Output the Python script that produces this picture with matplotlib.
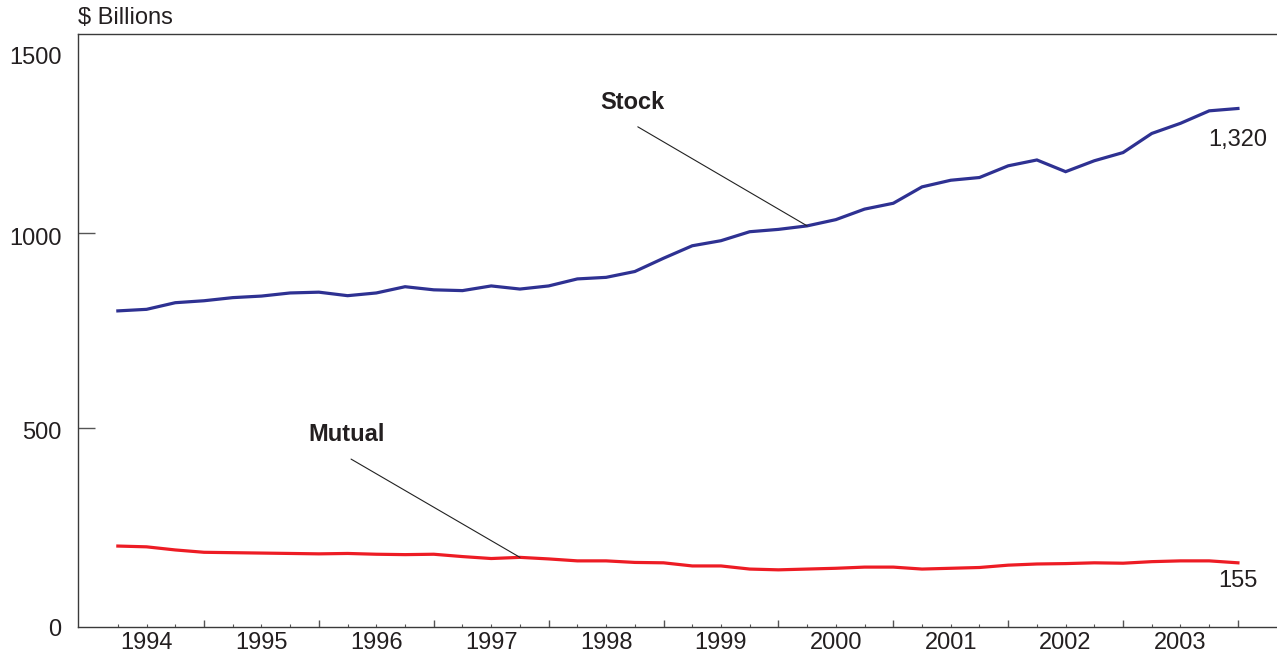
"""
Stock vs mutual holdings, quarterly, $ billions
"""
import matplotlib
matplotlib.use("Agg")
import matplotlib.pyplot as plt
import numpy as np

plt.rcParams['font.family'] = ['Liberation Sans', 'DejaVu Sans']

# quarter-end positions, 1994 Q1 .. 2003 Q4
quarters = np.arange(1994.25, 2004.01, 0.25)

stock = [801, 805, 822, 827, 835, 839, 847, 849, 840, 847,
         863, 855, 853, 865, 857, 865, 883, 887, 902, 936,
         968, 981, 1004, 1010, 1019, 1035, 1062, 1077, 1119, 1136,
         1143, 1173, 1188, 1158, 1186, 1207, 1256, 1282, 1314, 1320]

mutual = [198, 196, 188, 182, 181, 180, 179, 178, 179, 177,
          176, 177, 171, 166, 169, 165, 160, 160, 156, 155,
          147, 147, 139, 137, 139, 141, 144, 144, 139, 141,
          143, 149, 152, 153, 155, 154, 158, 160, 160, 155]

years = list(range(1994, 2004))
ytick_labels = ['0', '500', '1000', '1500']
ytick_label_pos = [-17, 487, 985, 1450]

stock_color = '#2E3192'
mutual_color = '#ED1C24'
text_color = '#231F20'
axis_color = '#3A3A3A'

fig = plt.figure(figsize=(12.77, 6.59), dpi=100)
ax = fig.add_axes([0.0608, 0.0486, 0.9392, 0.8998])

ax.plot(quarters, stock, color=stock_color, lw=2.3, solid_joinstyle='miter')
ax.plot(quarters, mutual, color=mutual_color, lw=2.3, solid_joinstyle='miter')

ax.set_xlim(1993.90, 2004.34)
ax.set_ylim(-9.5, 1511)

# spines
ax.spines['right'].set_visible(False)
for s in ['left', 'top', 'bottom']:
    ax.spines[s].set_color(axis_color)
    ax.spines[s].set_linewidth(1.0)

# x ticks: major at year ends, minor at quarter ends, labels mid-year
ax.set_xticks([y + 1.0 for y in years])
ax.set_xticks([q for q in quarters if abs(q - round(q)) > 0.01], minor=True)
ax.tick_params(axis='x', which='major', direction='in', length=5, width=1.0,
               color='#555555', labelbottom=False)
ax.tick_params(axis='x', which='minor', direction='in', length=2.3, width=0.8,
               color='#555555')
for y in years:
    ax.text(y + 0.5, -0.027, str(y), transform=ax.get_xaxis_transform(),
            ha='center', va='center', fontsize=17, color=text_color)

# y ticks: inward marks, labels placed as text
ax.set_yticks([500, 1000])
ax.tick_params(axis='y', direction='in', length=12, width=1.0,
               color='#555555', labelleft=False)
for lab, pos in zip(ytick_labels, ytick_label_pos):
    ax.text(-0.0135, pos, lab, transform=ax.get_yaxis_transform(),
            ha='right', va='center', fontsize=17, color=text_color)

fig.text(78 / 1277, 1 - 18 / 659, r'\$ Billions', ha='left', va='center',
         fontsize=17, color=text_color)

# series labels with pointer lines
ax.text(1998.73, 1336, 'Stock', ha='center', va='center', fontsize=17,
        fontweight='bold', color=text_color)
ax.annotate('', xy=(quarters[24], stock[24]), xytext=(1998.776, 1273),
            arrowprops=dict(arrowstyle='-', lw=0.8, color='#222222',
                            shrinkA=0, shrinkB=0))
ax.text(1996.24, 483, 'Mutual', ha='center', va='center', fontsize=17,
        fontweight='bold', color=text_color)
ax.annotate('', xy=(quarters[14], mutual[14]), xytext=(1996.28, 421),
            arrowprops=dict(arrowstyle='-', lw=0.8, color='#222222',
                            shrinkA=0, shrinkB=0))

# end values
ax.text(quarters[-1], 1238, f'{stock[-1]:,}', ha='center', va='center',
        fontsize=17, color=text_color)
ax.text(quarters[-1], 108, f'{mutual[-1]:,}', ha='center', va='center',
        fontsize=17, color=text_color)

fig.savefig('out.png', dpi=100)
